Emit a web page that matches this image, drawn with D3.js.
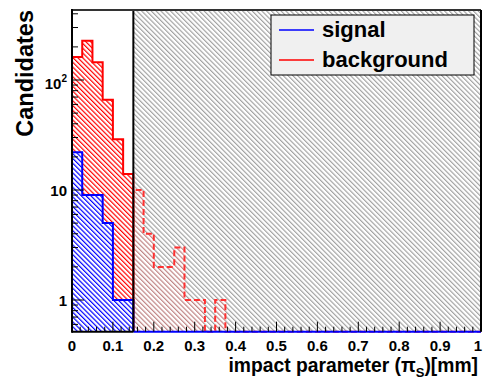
<!DOCTYPE html>
<html>
<head>
<meta charset="utf-8">
<script src="https://cdn.jsdelivr.net/npm/d3@7"></script>
<style>
  html, body { margin: 0; padding: 0; background: #fff; }
  svg { display: block; }
  text { font-family: "Liberation Sans", Arial, Helvetica, sans-serif; font-weight: bold; }
</style>
</head>
<body>
<svg id="chart" width="483" height="388"></svg>
<script>
// ---------------- data ----------------
const binWidth = 0.025;
const signalCounts = [22, 9, 9, 5, 1, 1, 0, 0, 0, 0,
                      0, 0, 0, 0, 0, 0, 0, 0, 0, 0,
                      0, 0, 0, 0, 0, 0, 0, 0, 0, 0,
                      0, 0, 0, 0, 0, 0, 0, 0, 0, 0];
const backgroundCounts = [162, 227, 145, 66, 29, 14, 10, 4, 2, 2,
                          3, 1, 1, 0, 1, 0, 0, 0, 0, 0,
                          0, 0, 0, 0, 0, 0, 0, 0, 0, 0,
                          0, 0, 0, 0, 0, 0, 0, 0, 0, 0];
const cutValue = 0.15;
const xTickValues = [0, 0.1, 0.2, 0.3, 0.4, 0.5, 0.6, 0.7, 0.8, 0.9, 1];
const xTickLabels = ["0", "0.1", "0.2", "0.3", "0.4", "0.5", "0.6", "0.7", "0.8", "0.9", "1"];
const yTickValues = [1, 10, 100];
const yTickLabels = [["1", ""], ["10", ""], ["10", "2"]];
const legendLabels = ["signal", "background"];
const xTitle = ["impact parameter (\u03c0", "S", ")[mm]"];
const yTitle = "Candidates";

// ---------------- layout ----------------
const W = 483, H = 388;
const pL = 72, pR = 481, pT = 10, pB = 331.7;
const svg = d3.select("#chart");
svg.append("rect").attr("width", W).attr("height", H).attr("fill", "#fff");

const x = d3.scaleLinear().domain([0, 1]).range([pL, pR]);
const y = d3.scaleLog().domain([0.515, 433]).range([pB, pT]);

// ---------------- patterns ----------------
const defs = svg.append("defs");
function hatch(id, color, bg, w) {
  const p = defs.append("pattern").attr("id", id)
    .attr("patternUnits", "userSpaceOnUse")
    .attr("width", 3.4).attr("height", 3.4)
    .attr("patternTransform", "rotate(-45)");
  if (bg) p.append("rect").attr("width", 3.4).attr("height", 3.4).attr("fill", bg);
  p.append("line").attr("x1", 0.6).attr("y1", -1).attr("x2", 0.6).attr("y2", 5)
    .attr("stroke", color).attr("stroke-width", w);
}
hatch("hGrey", "#9a9a9a", null, 1.1);
hatch("hPink", "#c08585", "#fff", 1.2);
hatch("hRed", "#ff0000", null, 1.2);
hatch("hBlue", "#0000ff", "#fff", 1.2);

// ---------------- helpers ----------------
function stepPoints(counts, i0, i1) {
  const pts = [[x(i0 * binWidth), pB]];
  for (let i = i0; i < i1; i++) {
    const v = counts[i];
    const yy = v > 0 ? y(v) : pB;
    pts.push([x(i * binWidth), yy], [x((i + 1) * binWidth), yy]);
  }
  pts.push([x(i1 * binWidth), pB]);
  return pts;
}
const line = d3.line();
const cutBin = Math.round(cutValue / binWidth);
const nBins = backgroundCounts.length;

// cut region hatch
svg.append("rect")
  .attr("x", x(cutValue)).attr("y", pT)
  .attr("width", x(1) - x(cutValue)).attr("height", pB - pT)
  .attr("fill", "url(#hGrey)");

// background beyond cut (dashed, pale)
const bgB = stepPoints(backgroundCounts, cutBin, nBins);
svg.append("path").attr("d", line(bgB)).attr("fill", "url(#hPink)").attr("stroke", "none");
svg.append("path").attr("d", line(bgB)).attr("fill", "none")
  .attr("stroke", "#ff3030").attr("stroke-width", 2).attr("stroke-dasharray", "6,3");

// background inside cut
const bgA = stepPoints(backgroundCounts, 0, cutBin);
svg.append("path").attr("d", line(bgA)).attr("fill", "#fff");
svg.append("path").attr("d", line(bgA)).attr("fill", "url(#hRed)")
  .attr("stroke", "#ff0000").attr("stroke-width", 2);

// signal
const sgA = stepPoints(signalCounts, 0, cutBin);
svg.append("path").attr("d", line(sgA)).attr("fill", "url(#hBlue)")
  .attr("stroke", "#0000ff").attr("stroke-width", 2);
const sgB = stepPoints(signalCounts, cutBin, nBins);
svg.append("path").attr("d", line(sgB)).attr("fill", "none")
  .attr("stroke", "#0000ff").attr("stroke-width", 2);

// cut line
svg.append("line").attr("x1", x(cutValue)).attr("x2", x(cutValue))
  .attr("y1", pT).attr("y2", pB).attr("stroke", "#000").attr("stroke-width", 2);

// ---------------- axes ----------------
const ax = svg.append("g");
ax.append("line").attr("x1", pL).attr("x2", pR).attr("y1", pT).attr("y2", pT)
  .attr("stroke", "#333").attr("stroke-width", 2);
ax.append("line").attr("x1", pR).attr("x2", pR).attr("y1", pT).attr("y2", pB)
  .attr("stroke", "#000").attr("stroke-width", 2);
ax.append("line").attr("x1", pL).attr("x2", pL).attr("y1", pT - 1).attr("y2", pB + 1)
  .attr("stroke", "#000").attr("stroke-width", 2);
ax.append("line").attr("x1", pL).attr("x2", x(cutValue)).attr("y1", pB).attr("y2", pB)
  .attr("stroke", "#000").attr("stroke-width", 2);

// x ticks
const xMinor = d3.range(0, 51).map(i => i * 0.02);
ax.selectAll(".xt").data(xMinor).join("line")
  .attr("x1", d => x(d)).attr("x2", d => x(d))
  .attr("y1", pB)
  .attr("y2", (d, i) => pB - (i % 5 === 0 ? 10 : 5))
  .attr("stroke", "#000").attr("stroke-width", 1);
const lastX = xTickValues.length - 1;
ax.selectAll(".xl").data(xTickValues).join("text")
  .attr("x", (d, i) => i === lastX ? W - 1 : x(d)).attr("y", 351)
  .attr("text-anchor", (d, i) => i === lastX ? "end" : "middle").attr("font-size", 15)
  .text((d, i) => xTickLabels[i]);

// y ticks
const yMinor = [];
[0.1, 1, 10, 100].forEach(dec => {
  for (let k = 2; k <= 9; k++) {
    const v = dec * k;
    if (v > y.domain()[0] && v < y.domain()[1]) yMinor.push(v);
  }
});
ax.selectAll(".ymin").data(yMinor).join("line")
  .attr("x1", pL).attr("x2", pL + 6)
  .attr("y1", d => y(d)).attr("y2", d => y(d))
  .attr("stroke", "#000").attr("stroke-width", 1);
ax.selectAll(".ymaj").data(yTickValues).join("line")
  .attr("x1", pL).attr("x2", pL + 12)
  .attr("y1", d => y(d)).attr("y2", d => y(d))
  .attr("stroke", "#000").attr("stroke-width", 1);
const yl = ax.selectAll(".yl").data(yTickValues).join("text")
  .attr("x", 67).attr("y", (d, i) => y(d) + (i === 2 ? 9 : 6))
  .attr("text-anchor", "end").attr("font-size", 15);
yl.each(function (d, i) {
  const t = d3.select(this);
  t.append("tspan").text(yTickLabels[i][0]);
  if (yTickLabels[i][1]) {
    t.append("tspan").attr("dy", -7).attr("font-size", 10).text(yTickLabels[i][1]);
  }
});

// titles
const xt = svg.append("text").attr("x", 478).attr("y", 372)
  .attr("text-anchor", "end").attr("font-size", 19.3);
xt.append("tspan").text(xTitle[0]);
xt.append("tspan").attr("dy", 5).attr("font-size", 13).text(xTitle[1]);
xt.append("tspan").attr("dy", -5).text(xTitle[2]);

svg.append("text")
  .attr("transform", "translate(33," + pT + ") rotate(-90)")
  .attr("text-anchor", "end").attr("font-size", 23.5)
  .text(yTitle);

// ---------------- legend ----------------
const lg = svg.append("g");
lg.append("rect").attr("x", 271).attr("y", 15).attr("width", 203).attr("height", 60)
  .attr("fill", "#f0f0f0").attr("stroke", "#000").attr("stroke-width", 1);
const legendColors = ["#0000ff", "#ff0000"];
legendLabels.forEach((lab, i) => {
  const cy = 30 + i * 30;
  lg.append("line").attr("x1", 279).attr("x2", 314).attr("y1", cy).attr("y2", cy)
    .attr("stroke", legendColors[i]).attr("stroke-width", 1.5);
  lg.append("text").attr("x", 322).attr("y", cy + 7).attr("font-size", 22).text(lab);
});
</script>
</body>
</html>
